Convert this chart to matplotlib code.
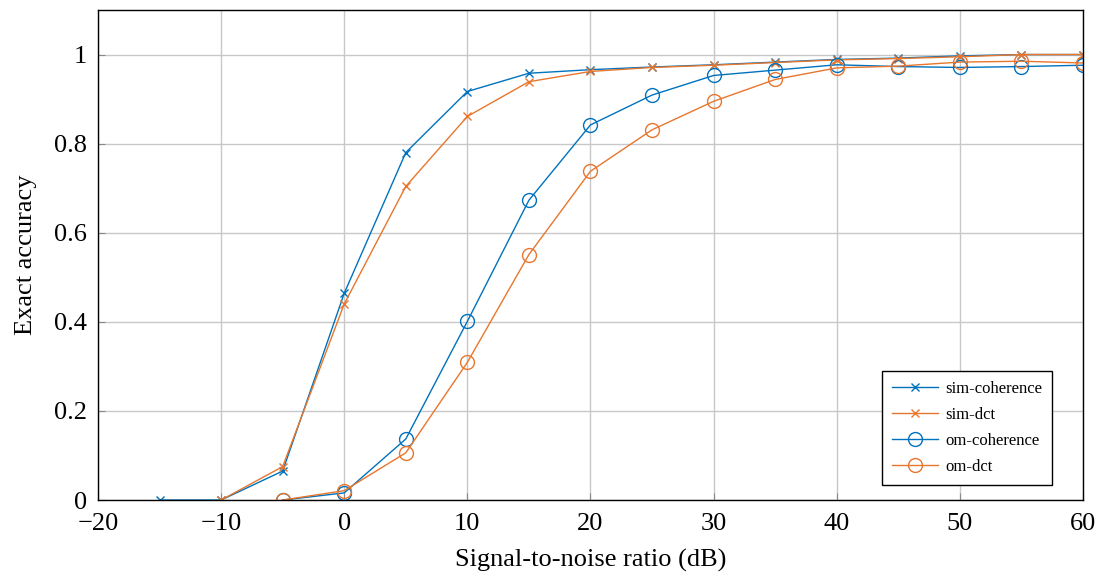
import matplotlib
matplotlib.use("Agg")
import matplotlib.pyplot as plt
from matplotlib.ticker import FuncFormatter

snr_sim_coh = [-15, -10, -5, 0, 5, 10, 15, 20, 25, 30, 35, 40, 45, 50, 55, 60]
sim_coherence = [0, 0, 0.065, 0.464, 0.78, 0.917, 0.958, 0.966, 0.972, 0.977, 0.983, 0.989, 0.992, 0.997, 1.0, 1.0]

snr_sim_dct = [-10, -5, 0, 5, 10, 15, 20, 25, 30, 35, 40, 45, 50, 55, 60]
sim_dct = [0, 0.075, 0.44, 0.704, 0.861, 0.939, 0.962, 0.971, 0.976, 0.982, 0.988, 0.991, 0.995, 1.0, 1.0]

snr_om = [-5, 0, 5, 10, 15, 20, 25, 30, 35, 40, 45, 50, 55, 60]
om_coherence = [0, 0.016, 0.137, 0.401, 0.673, 0.842, 0.909, 0.953, 0.965, 0.977, 0.973, 0.971, 0.973, 0.976]
om_dct = [0, 0.021, 0.106, 0.309, 0.551, 0.738, 0.831, 0.895, 0.944, 0.970, 0.974, 0.983, 0.985, 0.981]

labels = ["sim-coherence", "sim-dct", "om-coherence", "om-dct"]
blue = "#0072BD"
orange = "#E8762D"

plt.rcParams['font.family'] = ['Liberation Serif', 'DejaVu Serif']
plt.rcParams['mathtext.fontset'] = 'dejavuserif'

fig = plt.figure(figsize=(11.07, 5.77), dpi=100)
ax = fig.add_axes([0.0885, 0.1334, 0.8898, 0.8493])

ax.plot(snr_sim_coh, sim_coherence, color=blue, lw=1.0, marker='x', ms=6, mew=1.0, label=labels[0])
ax.plot(snr_sim_dct, sim_dct, color=orange, lw=1.0, marker='x', ms=6, mew=1.0, label=labels[1])
ax.plot(snr_om, om_coherence, color=blue, lw=1.0, marker='o', ms=10, mfc='none', mew=1.0, label=labels[2])
ax.plot(snr_om, om_dct, color=orange, lw=1.0, marker='o', ms=10, mfc='none', mew=1.0, label=labels[3])

ax.set_xlim(-20, 60)
ax.set_ylim(0, 1.1)
ax.set_xticks(range(-20, 61, 10))
ax.set_yticks([0, 0.2, 0.4, 0.6, 0.8, 1.0])
ax.xaxis.set_major_formatter(FuncFormatter(lambda v, p: ("\u2212%d" % -v) if v < 0 else "%d" % v))
ax.yaxis.set_major_formatter(FuncFormatter(lambda v, p: "%g" % v))
ax.grid(True, color='#c8c8c8', lw=1.0)
ax.set_axisbelow(True)
ax.tick_params(direction='in', labelsize=19, length=5, color='#888888')
ax.tick_params(axis='x', pad=9)
ax.tick_params(axis='y', pad=8)
for s in ax.spines.values():
    s.set_linewidth(1.0)
ax.set_xlabel("Signal-to-noise ratio (dB)", fontsize=19, labelpad=10)
ax.set_ylabel("Exact accuracy", fontsize=19, labelpad=12)

leg = ax.legend(loc='lower right', bbox_to_anchor=(0.9685, 0.0306), borderaxespad=0, fontsize=12,
                fancybox=False, edgecolor='black', framealpha=1, handlelength=2.8, handletextpad=0.4,
                borderpad=0.6, labelspacing=0.6)
leg.get_frame().set_linewidth(1.0)

fig.savefig("out.png", dpi=100)
